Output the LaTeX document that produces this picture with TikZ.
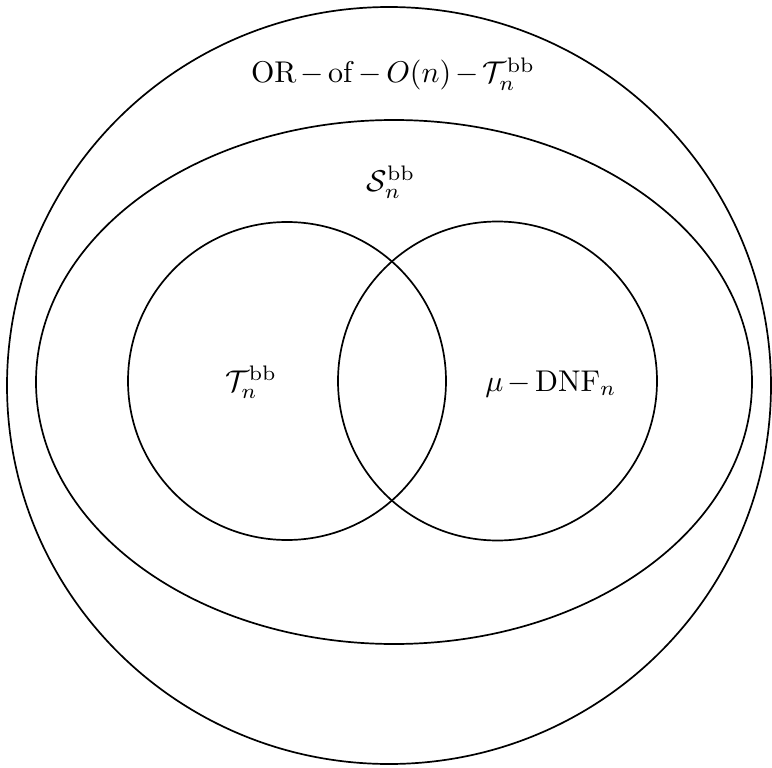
\documentclass[tikz,border=0pt]{standalone}
\usepackage{amsmath}
\begin{document}
\begin{tikzpicture}[x=1pt,y=-1pt,
  shp/.style={draw=black,line width=1.7pt},
  lbl/.style={inner sep=0pt,scale=3.0,execute at begin node={\medmuskip=2.5mu}}]
\useasboundingbox (0,0) rectangle (772,768);
\draw[shp] (389,385.5) ellipse [x radius=382, y radius=378.5];
\draw[shp] (394,382) ellipse [x radius=358, y radius=262];
\draw[shp] (287,381) circle [radius=159];
\draw[shp] (497.5,381) circle [radius=159.5];
\node[lbl] (outer) at (393,74) {$\mathrm{OR}-\mathrm{of}-O(n)-\mathcal{T}_n^{\mathrm{bb}}$};
\node[lbl] (s) at (391,182) {$\mathcal{S}_n^{\mathrm{bb}}$};
\node[lbl] (t) at (251,382) {$\mathcal{T}_n^{\mathrm{bb}}$};
\node[lbl] (d) at (551,384) {$\mu-\mathrm{DNF}_n$};
\end{tikzpicture}
\end{document}
